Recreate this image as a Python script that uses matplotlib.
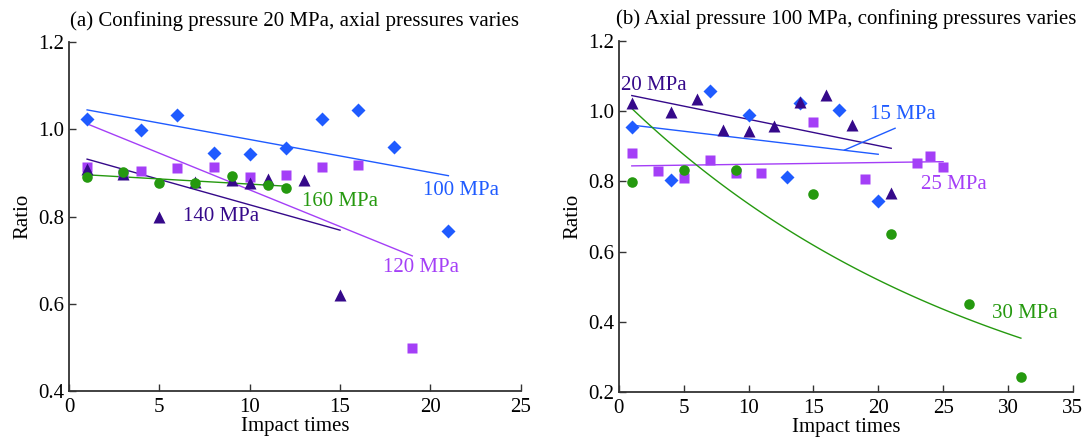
import numpy as np
import matplotlib
matplotlib.use('Agg')
import matplotlib.pyplot as plt

plt.rcParams['font.family'] = 'Liberation Serif'

# colours
c_blue = '#1f5bff'
c_lilac = '#a43ff7'
c_navy = '#35098a'
c_green = '#25990f'

# (a) confining pressure 20 MPa, axial pressure varies
x100 = [1, 4, 6, 8, 10, 12, 14, 16, 18, 21]
y100 = [1.024, 0.998, 1.034, 0.946, 0.943, 0.957, 1.025, 1.045, 0.959, 0.766]
x120 = [1, 3, 4, 6, 8, 10, 12, 14, 16, 19]
y120 = [0.913, 0.899, 0.905, 0.911, 0.915, 0.892, 0.896, 0.914, 0.918, 0.498]
x140 = [1, 3, 5, 7, 9, 10, 11, 13, 15]
y140 = [0.909, 0.898, 0.800, 0.880, 0.884, 0.878, 0.886, 0.884, 0.620]
x160 = [1, 3, 5, 7, 9, 11, 12]
y160 = [0.890, 0.903, 0.878, 0.877, 0.893, 0.872, 0.865]

# trend lines of (a) (start/end)
fit100_x, fit100_y = [1, 21], [1.045, 0.894]
fit120_x, fit120_y = [1, 19], [1.013, 0.710]
fit140_x, fit140_y = [1, 15], [0.932, 0.769]
fit160_x, fit160_y = [1, 12], [0.896, 0.870]

# (b) axial pressure 100 MPa, confining pressure varies
x20 = [1, 4, 6, 8, 10, 12, 14, 16, 18, 21]
y20 = [1.024, 0.998, 1.034, 0.946, 0.943, 0.957, 1.025, 1.045, 0.959, 0.766]
x15 = [1, 4, 7, 10, 13, 14, 17, 20]
y15 = [0.955, 0.804, 1.058, 0.989, 0.813, 1.022, 1.003, 0.745]
x25 = [1, 3, 5, 7, 9, 11, 15, 19, 23, 24, 25]
y25 = [0.880, 0.830, 0.809, 0.861, 0.823, 0.823, 0.970, 0.807, 0.853, 0.872, 0.842]
x30 = [1, 5, 9, 15, 21, 27, 31]
y30 = [0.799, 0.832, 0.832, 0.763, 0.650, 0.451, 0.243]

fit20_x, fit20_y = [1, 21], [1.044, 0.894]
fit15_x, fit15_y = [1, 20], [0.960, 0.877]
fit25_x, fit25_y = [1, 25], [0.844, 0.856]

fig = plt.figure(figsize=(10.87, 4.41), dpi=100)
ax1 = fig.add_axes([0.0635, 0.1134, 0.4155, 0.7906])
ax2 = fig.add_axes([0.5693, 0.1104, 0.4176, 0.7973])

lw = 1.0
ms = dict(D=7.0, s=7.2, o=7.6, t=9.0)

def style(ax, xmax, ymin, ymax):
  ax.set_xlim(0, xmax)
  ax.set_ylim(ymin, ymax)
  ax.spines['top'].set_visible(False)
  ax.spines['right'].set_visible(False)
  for s in ['left', 'bottom']:
    ax.spines[s].set_linewidth(1.3)
    ax.spines[s].set_color('#333333')
  ax.tick_params(direction='in', length=5, width=1.0, labelsize=15, color='#333333')
  ax.tick_params(axis='x', pad=5)
  ax.set_xlabel('Impact times', fontsize=15, labelpad=0)
  ax.set_ylabel('Ratio', fontsize=15, labelpad=4)

# panel (a)
ax1.plot(fit100_x, fit100_y, color=c_blue, lw=lw)
ax1.plot(fit120_x, fit120_y, color=c_lilac, lw=lw)
ax1.plot(fit140_x, fit140_y, color=c_navy, lw=lw)
ax1.plot(fit160_x, fit160_y, color=c_green, lw=lw)
ax1.plot(x100, y100, 'D', color=c_blue, ms=ms['D'], mec='none')
ax1.plot(x120, y120, 's', color=c_lilac, ms=ms['s'], mec='none')
ax1.plot(x140, y140, '^', color=c_navy, ms=ms['t'], mec='none')
ax1.plot(x160, y160, 'o', color=c_green, ms=ms['o'], mec='none')
ax1.text(19.6, 0.861, '100 MPa', color=c_blue, fontsize=15, va='center')
ax1.text(17.4, 0.683, '120 MPa', color=c_lilac, fontsize=15, va='center')
ax1.text(6.3, 0.800, '140 MPa', color=c_navy, fontsize=15, va='center')
ax1.text(12.9, 0.834, '160 MPa', color=c_green, fontsize=15, va='center')
style(ax1, 25, 0.4, 1.2)
ax1.set_xticks(range(0, 26, 5))
ax1.set_yticks(np.arange(0.4, 1.21, 0.2))
ax1.set_title('(a) Confining pressure 20 MPa, axial pressures varies', fontsize=15, pad=12)

# panel (b)
b, ln_a = np.polyfit(x30, np.log(y30), 1)
xc = np.linspace(x30[0], x30[-1], 100)
ax2.plot(fit20_x, fit20_y, color=c_navy, lw=lw)
ax2.plot(fit15_x, fit15_y, color=c_blue, lw=lw)
ax2.plot(fit25_x, fit25_y, color=c_lilac, lw=lw)
ax2.plot(xc, np.exp(ln_a + b * xc), color=c_green, lw=lw)
ax2.plot([17.4, 21.3], [0.889, 0.951], color=c_blue, lw=lw)
ax2.plot(x15, y15, 'D', color=c_blue, ms=ms['D'], mec='none')
ax2.plot(x25, y25, 's', color=c_lilac, ms=ms['s'], mec='none')
ax2.plot(x20, y20, '^', color=c_navy, ms=ms['t'], mec='none')
ax2.plot(x30, y30, 'o', color=c_green, ms=ms['o'], mec='none')
ax2.text(0.2, 1.074, '20 MPa', color=c_navy, fontsize=15, va='center')
ax2.text(19.4, 0.989, '15 MPa', color=c_blue, fontsize=15, va='center')
ax2.text(23.3, 0.792, '25 MPa', color=c_lilac, fontsize=15, va='center')
ax2.text(28.75, 0.423, '30 MPa', color=c_green, fontsize=15, va='center')
style(ax2, 35, 0.2, 1.2)
ax2.set_xticks(range(0, 36, 5))
ax2.set_yticks(np.arange(0.2, 1.21, 0.2))
ax2.set_title('(b) Axial pressure 100 MPa, confining pressures varies', fontsize=15, pad=12)

for ax in (ax1, ax2):
  ax.yaxis.set_major_formatter(matplotlib.ticker.FormatStrFormatter('%.1f'))

fig.savefig('out.png', dpi=100)
